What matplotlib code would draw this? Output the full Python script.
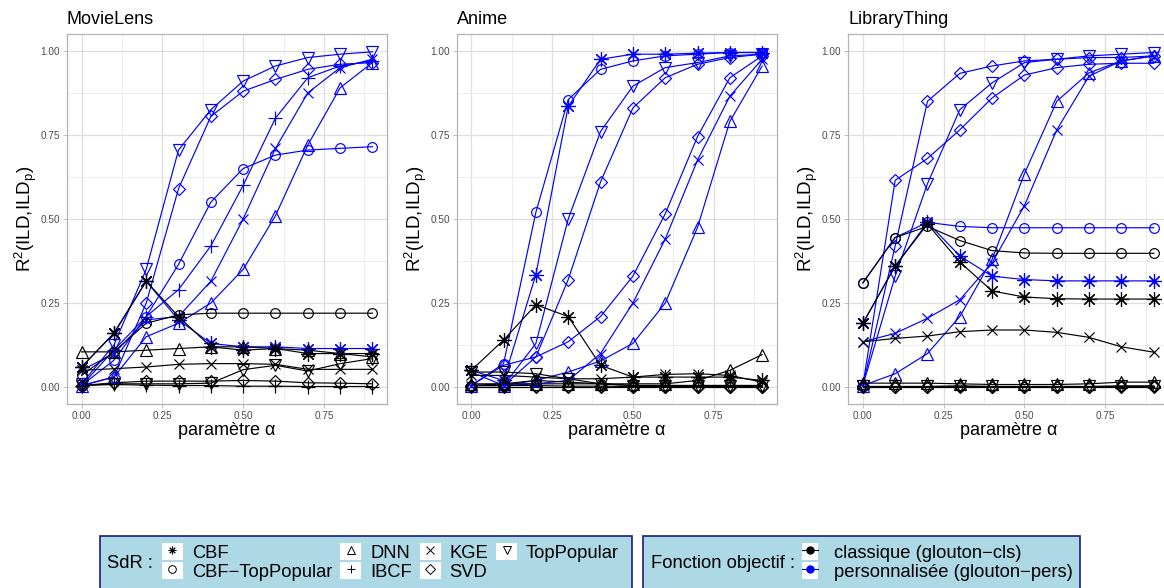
import matplotlib.pyplot as plt
from matplotlib.lines import Line2D
from matplotlib.patches import Rectangle
from matplotlib.legend_handler import HandlerTuple

plt.rcParams['font.family'] = ['Liberation Sans', 'DejaVu Sans']
plt.rcParams['mathtext.default'] = 'regular'

# parametre alpha
alpha = [0.0, 0.1, 0.2, 0.3, 0.4, 0.5, 0.6, 0.7, 0.8, 0.9]

# MovieLens - glouton classique / personnalise
movielens_cls = [
    ('CBF',            [0.06, 0.16, 0.315, 0.21, 0.12, 0.11, 0.115, 0.10, 0.10, 0.10]),
    ('CBF-TopPopular', [0.035, 0.105, 0.19, 0.215, 0.22, 0.22, 0.22, 0.22, 0.22, 0.22]),
    ('DNN',            [0.105, 0.105, 0.11, 0.115, 0.12, 0.12, 0.115, 0.11, 0.10, 0.09]),
    ('IBCF',           [0.005, 0.008, 0.006, 0.005, 0.005, 0.003, 0.003, 0.002, 0.002, 0.002]),
    ('KGE',            [0.05, 0.055, 0.06, 0.068, 0.07, 0.07, 0.068, 0.053, 0.053, 0.053]),
    ('SVD',            [0.005, 0.013, 0.018, 0.018, 0.018, 0.02, 0.018, 0.013, 0.012, 0.01]),
    ('TopPopular',     [0.005, 0.01, 0.01, 0.01, 0.012, 0.052, 0.065, 0.048, 0.07, 0.085]),
]
movielens_pers = [
    ('CBF',            [0.06, 0.16, 0.315, 0.20, 0.13, 0.12, 0.12, 0.115, 0.115, 0.115]),
    ('CBF-TopPopular', [0.005, 0.08, 0.21, 0.365, 0.55, 0.65, 0.69, 0.705, 0.71, 0.715]),
    ('DNN',            [0.005, 0.03, 0.15, 0.19, 0.25, 0.35, 0.51, 0.72, 0.89, 0.965]),
    ('IBCF',           [0.005, 0.11, 0.21, 0.29, 0.42, 0.60, 0.80, 0.92, 0.955, 0.97]),
    ('KGE',            [0.05, 0.10, 0.20, 0.21, 0.315, 0.50, 0.71, 0.875, 0.95, 0.975]),
    ('SVD',            [0.005, 0.03, 0.25, 0.59, 0.805, 0.88, 0.915, 0.945, 0.96, 0.965]),
    ('TopPopular',     [0.01, 0.125, 0.35, 0.705, 0.825, 0.91, 0.955, 0.98, 0.99, 0.997]),
]

# Anime
anime_cls = [
    ('CBF',            [0.05, 0.14, 0.245, 0.21, 0.065, 0.03, 0.03, 0.03, 0.03, 0.02]),
    ('CBF-TopPopular', [0.005, 0.01, 0.02, 0.015, 0.01, 0.005, 0.005, 0.005, 0.005, 0.005]),
    ('DNN',            [0.01, 0.01, 0.01, 0.01, 0.01, 0.01, 0.01, 0.02, 0.05, 0.097]),
    ('KGE',            [0.035, 0.035, 0.03, 0.025, 0.025, 0.03, 0.038, 0.04, 0.035, 0.015]),
    ('SVD',            [0.005, 0.005, 0.005, 0.003, 0.003, 0.002, 0.002, 0.002, 0.002, 0.002]),
    ('SVD',            [0.001, 0.001, 0.001, 0.001, 0.001, 0.001, 0.001, 0.001, 0.001, 0.001]),
    ('TopPopular',     [0.045, 0.045, 0.04, 0.025, 0.01, 0.005, 0.005, 0.005, 0.005, 0.005]),
]
anime_pers = [
    ('CBF',            [0.05, 0.02, 0.335, 0.835, 0.975, 0.99, 0.99, 0.993, 0.995, 0.995]),
    ('CBF-TopPopular', [0.005, 0.07, 0.52, 0.855, 0.945, 0.97, 0.985, 0.99, 0.995, 0.995]),
    ('DNN',            [0.005, 0.005, 0.02, 0.045, 0.078, 0.13, 0.25, 0.475, 0.79, 0.955]),
    ('KGE',            [0.005, 0.005, 0.01, 0.02, 0.10, 0.25, 0.44, 0.675, 0.865, 0.975]),
    ('SVD',            [0.005, 0.005, 0.09, 0.32, 0.61, 0.83, 0.92, 0.96, 0.98, 0.99]),
    ('SVD',            [0.005, 0.065, 0.09, 0.135, 0.21, 0.33, 0.515, 0.745, 0.92, 0.985]),
    ('TopPopular',     [0.045, 0.005, 0.13, 0.50, 0.76, 0.895, 0.95, 0.965, 0.985, 0.99]),
]

# LibraryThing
librarything_cls = [
    ('CBF',            [0.19, 0.36, 0.485, 0.372, 0.286, 0.268, 0.263, 0.262, 0.262, 0.262]),
    ('CBF-TopPopular', [0.31, 0.445, 0.478, 0.436, 0.406, 0.399, 0.398, 0.398, 0.398, 0.398]),
    ('DNN',            [0.012, 0.012, 0.012, 0.01, 0.008, 0.008, 0.008, 0.01, 0.015, 0.015]),
    ('KGE',            [0.135, 0.145, 0.152, 0.165, 0.17, 0.17, 0.163, 0.148, 0.12, 0.104]),
    ('SVD',            [0.002, 0.002, 0.002, 0.004, 0.002, 0.002, 0.002, 0.002, 0.004, 0.004]),
    ('SVD',            [0.0, 0.0, 0.0, 0.0, 0.0, 0.0, 0.0, 0.0, 0.0, 0.0]),
    ('TopPopular',     [0.003, 0.003, 0.003, 0.003, 0.003, 0.003, 0.003, 0.003, 0.003, 0.003]),
]
librarything_pers = [
    ('CBF',            [0.19, 0.36, 0.49, 0.39, 0.33, 0.32, 0.316, 0.316, 0.316, 0.316]),
    ('CBF-TopPopular', [0.31, 0.445, 0.49, 0.478, 0.474, 0.474, 0.474, 0.474, 0.474, 0.474]),
    ('DNN',            [0.005, 0.04, 0.10, 0.21, 0.38, 0.635, 0.85, 0.935, 0.97, 0.985]),
    ('KGE',            [0.135, 0.16, 0.205, 0.26, 0.37, 0.54, 0.765, 0.925, 0.97, 0.985]),
    ('SVD',            [0.005, 0.615, 0.68, 0.765, 0.86, 0.928, 0.95, 0.96, 0.963, 0.963]),
    ('SVD',            [0.005, 0.42, 0.85, 0.933, 0.955, 0.97, 0.975, 0.98, 0.98, 0.985]),
    ('TopPopular',     [0.005, 0.33, 0.605, 0.825, 0.905, 0.965, 0.975, 0.985, 0.99, 0.995]),
]

datasets = [
    ('MovieLens', movielens_cls, movielens_pers),
    ('Anime', anime_cls, anime_pers),
    ('LibraryThing', librarything_cls, librarything_pers),
]

sdr_names = ['CBF', 'CBF-TopPopular', 'DNN', 'IBCF', 'KGE', 'SVD', 'TopPopular']
sdr_labels = ['CBF', 'CBF\u2212TopPopular', 'DNN', 'IBCF', 'KGE', 'SVD', 'TopPopular']
markers = {'CBF': (8, 2, 0), 'CBF-TopPopular': 'o', 'DNN': '^', 'IBCF': '+',
           'KGE': 'x', 'SVD': 'D', 'TopPopular': 'v'}
msizes = {'CBF': 10.5, 'CBF-TopPopular': 7, 'DNN': 8, 'IBCF': 9.5,
          'KGE': 7.5, 'SVD': 6.5, 'TopPopular': 8}
obj_labels = ['classique (glouton\u2212cls)', 'personnalisée (glouton\u2212pers)']
obj_colors = ['black', 'blue']

W, H = 1164, 588
fig = plt.figure(figsize=(W / 100, H / 100), dpi=100)

lefts = [67, 456.7, 848.3]
for left, (name, cls, pers) in zip(lefts, datasets):
    ax = fig.add_axes([left / W, 1 - 404 / H, 320 / W, 370 / H])
    groups = [(pers, 'blue'), (cls, 'black')]
    # lignes d'abord, puis les points par-dessus
    for series, color in groups:
        for sdr, values in series:
            ax.plot(alpha, values, color=color, lw=0.85, zorder=2)
    for series, color in groups:
        for sdr, values in series:
            ax.plot(alpha, values, ls='none', marker=markers[sdr], ms=msizes[sdr],
                    mfc='none', mec=color, mew=0.85, zorder=3)

    ax.set_xlim(-0.045, 0.945)
    ax.set_ylim(-0.05, 1.05)
    ax.set_xticks([0, 0.25, 0.5, 0.75])
    ax.set_xticklabels(['0.00', '0.25', '0.50', '0.75'])
    ax.set_xticks([0.125, 0.375, 0.625, 0.875], minor=True)
    ax.set_yticks([0, 0.25, 0.5, 0.75, 1.0])
    ax.set_yticklabels(['0.00', '0.25', '0.50', '0.75', '1.00'])
    ax.set_yticks([0.125, 0.375, 0.625, 0.875], minor=True)
    ax.grid(which='major', color='#DEDEDE', lw=0.9)
    ax.grid(which='minor', color='#E6E6E6', lw=0.5)
    ax.set_axisbelow(True)
    ax.tick_params(which='minor', length=0)
    ax.tick_params(which='major', length=3, width=0.6, color='#B3B3B3',
                   labelsize=7.2, labelcolor='#4D4D4D', pad=2)
    for sp in ax.spines.values():
        sp.set_color('#B3B3B3')
        sp.set_linewidth(0.9)
    ax.set_title(name, loc='left', fontsize=13, pad=7)
    ax.set_xlabel('paramètre α', fontsize=13, labelpad=1)
    ax.set_ylabel('R$^{2}$(ILD,ILD$_{p}$)', fontsize=13.5, labelpad=1)

# boites de legende
fig.add_artist(Rectangle((100 / W, -0.01), 532 / W, 1 - 536 / H + 0.01,
                         transform=fig.transFigure, facecolor='#ADD8E6',
                         edgecolor='#1C1C7C', lw=1.2, zorder=1))
fig.add_artist(Rectangle((643 / W, -0.01), 437 / W, 1 - 536 / H + 0.01,
                         transform=fig.transFigure, facecolor='#ADD8E6',
                         edgecolor='#1C1C7C', lw=1.2, zorder=1))
fig.text(107 / W, 1 - 563 / H, 'SdR :', va='center', ha='left', fontsize=13.2)
fig.text(651 / W, 1 - 563 / H, 'Fonction objectif :', va='center', ha='left', fontsize=13.2)

handles1 = []
for sdr in sdr_names:
    bg = Rectangle((0, 0), 1, 1, facecolor='white', edgecolor='none')
    mk = Line2D([], [], ls='none', marker=markers[sdr], ms=5.5, mfc='none',
                mec='black', mew=0.7)
    handles1.append((bg, mk))
fig.legend(handles1, sdr_labels, loc='upper left', bbox_to_anchor=(162 / W, 1 - 543 / H),
           ncol=4, frameon=False, fontsize=13.2, handlelength=1.14, handleheight=1.09,
           handletextpad=0.49, columnspacing=0.43, labelspacing=0.0, borderpad=0,
           borderaxespad=0, handler_map={tuple: HandlerTuple(ndivide=1, pad=0)})

handles2 = []
for color in obj_colors:
    bg = Rectangle((0, 0), 1, 1, facecolor='white', edgecolor='none')
    mk = Line2D([], [], color=color, lw=0.8, marker='o', ms=5)
    handles2.append((bg, mk))
fig.legend(handles2, obj_labels, loc='upper left', bbox_to_anchor=(802 / W, 1 - 543 / H),
           ncol=1, frameon=False, fontsize=13.2, handlelength=0.85, handleheight=1.09,
           handletextpad=0.9, labelspacing=0.0, borderpad=0, borderaxespad=0,
           handler_map={tuple: HandlerTuple(ndivide=1, pad=0)})

fig.savefig('out.png', dpi=100)
